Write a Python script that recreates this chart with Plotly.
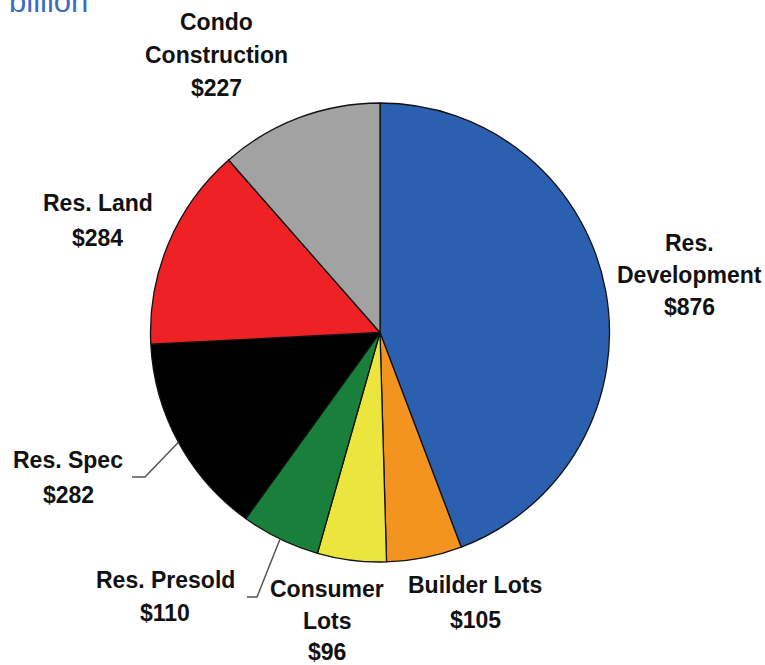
import math
import plotly.graph_objects as go

# Loan balances by category ($ billion), clockwise from 12 o'clock
categories = ["Res. Development", "Builder Lots", "Consumer Lots", "Res. Presold",
              "Res. Spec", "Res. Land", "Condo Construction"]
values = [876, 105, 96, 110, 282, 284, 227]
label_lines = [["Res.", "Development"], ["Builder Lots"], ["Consumer", "Lots"],
               ["Res. Presold"], ["Res. Spec"], ["Res. Land"], ["Condo", "Construction"]]
colors = ["#2A60AF", "#F2941F", "#ECE53E", "#18803A", "#000000", "#EE2125", "#A2A2A2"]

W, H = 765, 665
CX, CY, R = 380, 332.5, 229.5

# label anchor (centre x, first line y) and line gap, in pixels
label_pos = {
    "Res. Development": (689, 243, 32),
    "Builder Lots": (475, 585, 35),
    "Consumer Lots": (327, 589, 31.5),
    "Res. Presold": (165, 580, 33),
    "Res. Spec": (68, 460, 35),
    "Res. Land": (98, 203, 35),
    "Condo Construction": (216, 22, 33),
}
# slices whose labels get a leader line: elbow and end points (pixels)
leaders = {
    "Res. Spec": [(145, 477), (132, 477)],
    "Res. Presold": [(257, 597), (247, 597)],
}


def px(x):
    return x / W


def py(y):
    return 1 - y / H


fig = go.Figure(go.Pie(
    labels=categories,
    values=values,
    sort=False,
    direction="clockwise",
    rotation=0,
    marker=dict(colors=colors, line=dict(color="#111111", width=1.3)),
    textinfo="none",
    hoverinfo="label+value",
    showlegend=False,
    domain=dict(x=[px(CX - R), px(CX + R)], y=[py(CY + R), py(CY - R)]),
))

annotations = []
shapes = []
total = sum(values)
cum = 0
for name, val, lines in zip(categories, values, label_lines):
    mid = (cum + val / 2) / total * 2 * math.pi
    cum += val
    x0, y0, gap = label_pos[name]
    for i, t in enumerate(lines + [f"${val}"]):
        annotations.append(dict(
            x=px(x0), y=py(y0 + i * gap), xref="paper", yref="paper",
            text=f"<b>{t}</b>", showarrow=False, xanchor="center", yanchor="middle",
            font=dict(family="Liberation Sans, Arial, sans-serif", size=23, color="#111111"),
        ))
    if name in leaders:
        pts = [(CX + R * math.sin(mid), CY - R * math.cos(mid))] + leaders[name]
        path = "M " + " L ".join(f"{px(a)},{py(b)}" for a, b in pts)
        shapes.append(dict(type="path", xref="paper", yref="paper", path=path,
                           line=dict(color="#555555", width=1.5)))

annotations.append(dict(
    x=px(7), y=py(21), xref="paper", yref="paper", text="billion", showarrow=False,
    xanchor="left", yanchor="bottom",
    font=dict(family="Liberation Sans, Arial, sans-serif", size=31, color="#3D6CC0"),
))

fig.update_layout(
    width=W, height=H,
    margin=dict(l=0, r=0, t=0, b=0),
    paper_bgcolor="white", plot_bgcolor="white",
    annotations=annotations, shapes=shapes,
)

fig.write_html("out.html")
